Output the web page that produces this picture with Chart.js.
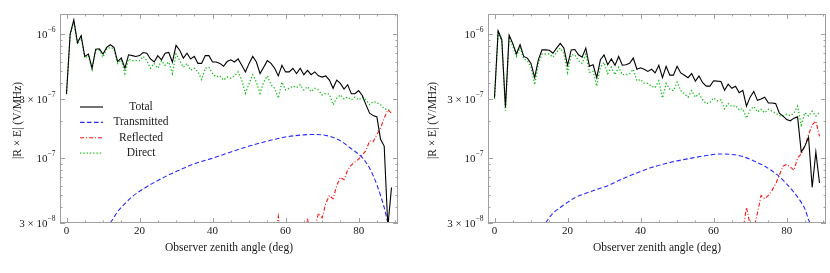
<!DOCTYPE html>
<html>
<head>
<meta charset="utf-8">
<script src="https://cdn.jsdelivr.net/npm/chart.js@4"></script>
<style>
  body { margin: 0; background: #fff; }
  canvas { position: absolute; top: 0; }
</style>
</head>
<body>
<canvas id="leftChart" width="415" height="273" style="left:0"></canvas>
<canvas id="rightChart" width="415" height="273" style="left:415px"></canvas>
<script>
// all field values below are in units of 1e-7 V/MHz
const UNIT = 1e-7;
const angles = Array.from({ length: 90 }, (_, i) => i);

// left panel
const totalLeft = [3.3, 10, 13.0, 8.5, 9.7, 6.6, 6.9, 5.3, 7.55, 7.6,
    6.9, 7.8, 8.2, 7.8, 6.0, 6.4, 5.3, 6.8, 6.7, 6.6,
    6.7, 7.1, 7.0, 6.3, 5.95, 6.7, 6.2, 7.0, 7.1, 5.95,
    8.1, 7.4, 6.4, 7.0, 6.3, 6.6, 5.8, 5.8, 6.7, 6.7,
    5.95, 5.95, 5.8, 5.5, 6.0, 6.2, 5.95, 6.3, 5.6, 4.95,
    5.8, 6.6, 5.95, 4.8, 5.4, 6.1, 5.8, 5.3, 4.6, 5.6,
    4.95, 4.95, 5.3, 4.8, 5.3, 4.7, 5.1, 4.7, 4.95, 4.6,
    4.5, 4.6, 4.25, 3.65, 4.25, 4.0, 3.6, 3.9, 3.3, 3.3,
    3.5, 3.2, 2.7, 2.3, 2.2, 2.15, 1.42, 1.25, 0.28, 0.58];
const directLeft = [3.27, 9.7, 12.8, 8.3, 9.5, 6.4, 6.7, 5.2, 7.4, 7.4,
    6.5, 7.6, 7.8, 7.6, 5.8, 6.2, 4.8, 6.3, 6.1, 6.1,
    6.1, 6.6, 6.1, 5.3, 5.8, 5.3, 6.1, 5.6, 5.95, 4.8,
    6.9, 6.1, 5.4, 5.8, 5.1, 5.3, 4.95, 4.3, 5.3, 5.4,
    4.8, 4.5, 4.6, 4.25, 4.5, 4.4, 4.6, 4.95, 4.25, 3.33,
    4.0, 4.7, 4.1, 3.33, 4.1, 4.6, 3.9, 3.65, 3.04, 4.1,
    3.54, 3.65, 3.8, 3.7, 3.9, 3.54, 3.76, 3.43, 3.65, 3.54,
    3.23, 3.33, 3.27, 2.69, 3.04, 3.23, 3.0, 3.1, 2.95, 3.1,
    2.95, 3.1, 2.95, 2.7, 2.85, 2.8, 2.7, 2.5, 2.45, 2.4];
const transAnglesLeft = [11, 12, 14, 16, 18, 20, 25, 30, 35, 40, 45, 50, 55, 60, 65, 68, 70, 72, 75, 78, 81, 83, 84, 85, 86, 87, 88, 89];
const transLeft = [0.27, 0.30, 0.37, 0.43, 0.49, 0.54, 0.66, 0.78, 0.90, 1.0, 1.12, 1.25, 1.37, 1.48, 1.54, 1.55, 1.54, 1.50, 1.38, 1.19, 1.01, 0.83, 0.72, 0.61, 0.50, 0.40, 0.30, 0.22];
const reflAnglesLeft = [57, 58, 59, 65, 66, 67, 68, 69, 70, 71, 72, 73, 74, 75, 76, 77, 78, 79, 80, 81, 82, 83, 84, 85, 86, 87, 88, 89];
const reflLeft = [0.2, 0.34, 0.2, 0.2, 0.33, 0.2, 0.27, 0.36, 0.33, 0.43, 0.5, 0.47, 0.6, 0.7, 0.67, 0.8, 0.88, 0.93, 0.98, 1.06, 1.15, 1.38, 1.36, 1.55, 1.75, 2.1, 2.45, 2.3];

// right panel
const totalRight = [3.07, 10.6, 9.0, 2.56, 9.8, 8.4, 6.9, 8.2, 6.6, 6.4,
    5.8, 4.45, 6.2, 7.45, 7.45, 7.4, 7.0, 7.7, 8.4, 7.7,
    5.6, 7.45, 7.5, 6.8, 6.5, 7.7, 5.5, 5.65, 4.45, 6.2,
    6.8, 5.65, 6.3, 5.6, 6.6, 5.6, 5.65, 5.8, 6.4, 5.2,
    5.35, 5.2, 5.0, 5.2, 4.86, 5.6, 4.45, 5.5, 4.66, 4.66,
    5.5, 4.86, 4.66, 4.45, 4.8, 4.17, 4.58, 4.05, 3.8, 3.8,
    4.2, 4.17, 4.15, 3.52, 3.94, 3.65, 3.8, 3.37, 3.52, 2.62,
    3.1, 3.45, 2.92, 3.0, 3.1, 2.78, 2.78, 2.75, 2.3, 2.18,
    2.05, 2.0, 2.1, 2.15, 1.12, 1.25, 1.47, 0.58, 1.12, 0.63];
const directRight = [3.0, 10.3, 8.7, 2.4, 9.5, 8.0, 6.6, 7.8, 6.3, 6.1,
    5.4, 3.9, 5.8, 6.9, 6.9, 6.9, 6.5, 7.1, 7.7, 7.0,
    4.9, 6.8, 6.8, 6.1, 5.8, 6.9, 4.9, 5.0, 3.8, 5.4,
    5.9, 4.8, 5.4, 4.7, 5.4, 4.7, 4.7, 4.8, 5.2, 4.2,
    4.3, 4.0, 4.0, 3.8, 3.7, 4.2, 3.05, 4.0, 3.6, 3.5,
    4.1, 3.5, 3.3, 3.1, 3.5, 3.1, 3.3, 2.95, 2.75, 2.8,
    3.05, 2.9, 2.95, 2.5, 2.75, 2.6, 2.65, 2.45, 2.5, 2.1,
    2.45, 2.6, 2.35, 2.47, 2.32, 2.47, 2.39, 2.3, 2.2, 2.18,
    2.25, 2.2, 2.3, 2.62, 1.85, 2.32, 2.18, 2.39, 2.18, 2.32];
const transAnglesRight = [13, 14, 16, 18, 20, 22, 25, 28, 31, 34, 37, 40, 43, 46, 50, 54, 58, 62, 65, 68, 71, 74, 77, 80, 82, 84, 85, 86, 87];
const transRight = [0.27, 0.30, 0.36, 0.40, 0.44, 0.48, 0.52, 0.56, 0.60, 0.66, 0.72, 0.78, 0.84, 0.89, 0.95, 1.0, 1.05, 1.08, 1.07, 1.03, 0.95, 0.86, 0.75, 0.62, 0.53, 0.44, 0.39, 0.32, 0.27];
const reflAnglesRight = [32, 33, 34, 67, 68, 69, 70, 71, 72, 73, 74, 75, 76, 77, 78, 79, 80, 81, 82, 83, 84, 85, 86, 87, 88, 89];
const reflRight = [0.2, 0.31, 0.2, 0.2, 0.26, 0.40, 0.29, 0.27, 0.36, 0.5, 0.47, 0.5, 0.55, 0.62, 0.73, 0.86, 0.89, 0.85, 0.8, 1.0, 1.08, 1.25, 1.55, 1.85, 1.99, 1.5];

// axes
const xTicks = [0, 20, 40, 60, 80];
const xMinorTicks = [5, 10, 15, 25, 30, 35, 45, 50, 55, 65, 70, 75, 85, 90];
const yTicks = [3e-8, 1e-7, 3e-7, 1e-6];
const yTickBase = ['3 × 10', '10', '3 × 10', '10'];
const yTickExp = ['−8', '−7', '−7', '−6'];
const yMinorTicks = [4e-8, 5e-8, 6e-8, 7e-8, 8e-8, 9e-8, 2e-7, 4e-7, 5e-7, 6e-7, 7e-7, 8e-7, 9e-7];
const seriesLabels = ['Total', 'Transmitted', 'Reflected', 'Direct'];

const styles = [
    { color: '#000000', dash: [], width: 1.1 },
    { color: 'rgb(40,40,255)', dash: [4.5, 2.5], width: 1.1 },
    { color: 'rgb(255,20,20)', dash: [4, 2, 1, 2], width: 1.1 },
    { color: 'rgb(20,190,20)', dash: [1.3, 2], width: 1.3 }
];

const SERIF = '"Liberation Serif", "Times New Roman", serif';

function pts(xs, ys) {
    return xs.map((x, i) => ({ x: x, y: ys[i] * UNIT }));
}

// frame, inward ticks, tick labels, axis titles and legend
const framePlugin = {
    id: 'frame',
    afterDraw(chart, args, opts) {
        const { ctx, chartArea: a, scales: { x, y } } = chart;
        ctx.save();
        ctx.strokeStyle = '#a0a0a0';
        ctx.lineWidth = 1;
        ctx.strokeRect(a.left + 0.5, a.top + 0.5, a.right - a.left - 1, a.bottom - a.top - 1);

        ctx.beginPath();
        xTicks.concat(xMinorTicks).forEach(v => {
            const px = Math.round(x.getPixelForValue(v)) + 0.5;
            const len = xTicks.includes(v) ? 5 : 2.5;
            ctx.moveTo(px, a.bottom); ctx.lineTo(px, a.bottom - len);
            ctx.moveTo(px, a.top); ctx.lineTo(px, a.top + len);
        });
        yTicks.concat(yMinorTicks).forEach(v => {
            const py = Math.round(y.getPixelForValue(v)) + 0.5;
            const len = yTicks.includes(v) ? 5 : 2.5;
            ctx.moveTo(a.left, py); ctx.lineTo(a.left + len, py);
            ctx.moveTo(a.right, py); ctx.lineTo(a.right - len, py);
        });
        ctx.stroke();

        ctx.fillStyle = '#1a1a1a';
        ctx.font = '11px ' + SERIF;
        ctx.textAlign = 'center';
        ctx.textBaseline = 'middle';
        xTicks.forEach(v => ctx.fillText(String(v), x.getPixelForValue(v), a.bottom + 8));

        yTicks.forEach((v, i) => {
            const py = y.getPixelForValue(v);
            const right = a.left - 4.5;
            ctx.font = '7.5px ' + SERIF;
            const ew = ctx.measureText(yTickExp[i]).width;
            ctx.textAlign = 'left';
            ctx.fillText(yTickExp[i], right - ew, py - 4);
            ctx.font = '11px ' + SERIF;
            ctx.textAlign = 'right';
            ctx.fillText(yTickBase[i], right - ew, py + 1);
        });

        ctx.font = '11.5px ' + SERIF;
        ctx.textAlign = 'center';
        ctx.fillText('Observer zenith angle (deg)', (a.left + a.right) / 2, 248);
        ctx.save();
        ctx.translate(18, (a.top + a.bottom) / 2 + 2);
        ctx.rotate(-Math.PI / 2);
        ctx.fillText('|R × E| (V/MHz)', 0, 0);
        ctx.restore();

        if (opts.legend) {
            chart.data.datasets.forEach((ds, i) => {
                const ly = 107 + i * 15.4;
                ctx.save();
                ctx.strokeStyle = ds.borderColor;
                ctx.lineWidth = ds.borderWidth;
                ctx.setLineDash(ds.borderDash);
                ctx.beginPath();
                ctx.moveTo(80, ly);
                ctx.lineTo(103, ly);
                ctx.stroke();
                ctx.restore();
                ctx.fillText(ds.label, 141, ly);
            });
        }
        ctx.restore();
    }
};

function makeChart(id, series, axisWidth, padRight, showLegend) {
    const datasets = series.map((s, i) => ({
        label: seriesLabels[i],
        data: s,
        borderColor: styles[i].color,
        borderDash: styles[i].dash,
        borderWidth: styles[i].width,
        pointRadius: 0,
        fill: false,
        tension: i === 1 ? 0.4 : 0,
        cubicInterpolationMode: i === 1 ? 'monotone' : 'default'
    }));

    return new Chart(document.getElementById(id), {
        type: 'line',
        data: { datasets: datasets },
        options: {
            responsive: false,
            animation: false,
            devicePixelRatio: 1,
            layout: { padding: { left: 0, right: padRight, top: 14, bottom: 0 } },
            plugins: {
                legend: { display: false },
                tooltip: { enabled: false },
                frame: { legend: showLegend }
            },
            scales: {
                x: {
                    type: 'linear', min: -1.78, max: 90.78,
                    ticks: { display: false }, grid: { display: false }, border: { display: false },
                    afterFit: s => { s.height = 50; }
                },
                y: {
                    type: 'logarithmic', min: 3e-8, max: 1.45e-6,
                    ticks: { display: false }, grid: { display: false }, border: { display: false },
                    afterFit: s => { s.width = axisWidth; }
                }
            }
        },
        plugins: [framePlugin]
    });
}

makeChart('leftChart', [
    pts(angles, totalLeft),
    pts(transAnglesLeft, transLeft),
    pts(reflAnglesLeft, reflLeft),
    pts(angles, directLeft)
], 60, 17, true);

makeChart('rightChart', [
    pts(angles, totalRight),
    pts(transAnglesRight, transRight),
    pts(reflAnglesRight, reflRight),
    pts(angles, directRight)
], 73, 4, false);
</script>
</body>
</html>
